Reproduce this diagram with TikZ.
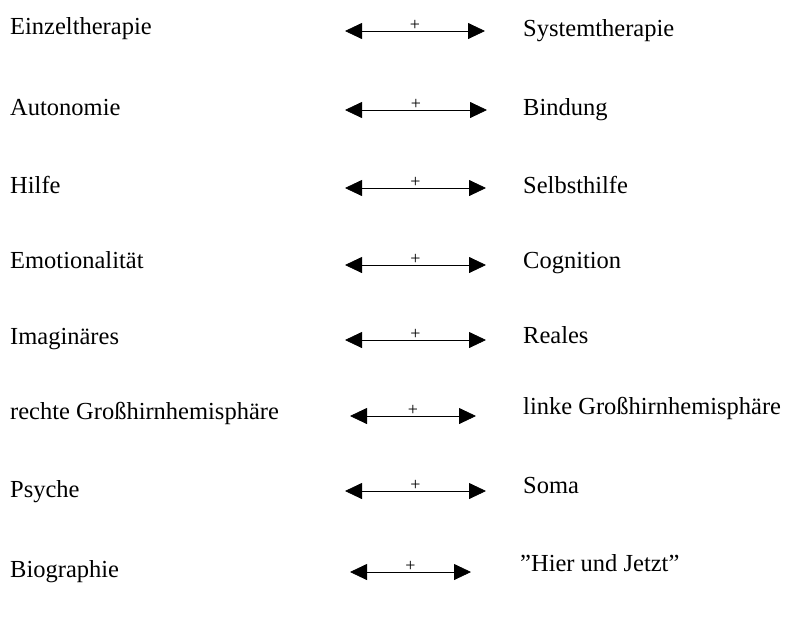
\documentclass[tikz,border=0pt]{standalone}
\usepackage{fontspec}
\setmainfont{Liberation Serif}
\usetikzlibrary{arrows.meta}
\begin{document}
\begin{tikzpicture}[x=1pt,y=-1pt,
  lbl/.style={anchor=base west,inner sep=0pt,font=\fontsize{24.5}{28}\selectfont},
  dbl/.style={line width=0.8pt,{Triangle[length=17pt,width=16pt]}-{Triangle[length=17pt,width=16pt]}},
  plus/.style={above,inner sep=0.5pt,font=\fontsize{18}{20}\selectfont}]
\useasboundingbox (0,0) rectangle (800,625);
\node[lbl] (l1) at (10,34) {Einzeltherapie};
\node[lbl] (l2) at (10,115) {Autonomie};
\node[lbl] (l3) at (10,193) {Hilfe};
\node[lbl] (l4) at (10,268) {Emotionalität};
\node[lbl] (l5) at (10,344) {Imaginäres};
\node[lbl] (l6) at (10,419) {rechte Großhirnhemisphäre};
\node[lbl] (l7) at (10,497) {Psyche};
\node[lbl] (l8) at (10,577) {Biographie};
\node[lbl] (r1) at (523,36) {Systemtherapie};
\node[lbl] (r2) at (523,115) {Bindung};
\node[lbl] (r3) at (523,193) {Selbsthilfe};
\node[lbl] (r4) at (523,268) {Cognition};
\node[lbl] (r5) at (523,343) {Reales};
\node[lbl] (r6) at (523,414) {linke Großhirnhemisphäre};
\node[lbl] (r7) at (523,493) {Soma};
\node[lbl] (r8) at (520,571) {"Hier und Jetzt"};
\coordinate (a1) at (345,31); \coordinate (b1) at (485,31);
\coordinate (a2) at (345,110); \coordinate (b2) at (487,110);
\coordinate (a3) at (345,188); \coordinate (b3) at (486,188);
\coordinate (a4) at (345,265); \coordinate (b4) at (486,265);
\coordinate (a5) at (345,340); \coordinate (b5) at (486,340);
\coordinate (a6) at (350,416); \coordinate (b6) at (476,416);
\coordinate (a7) at (345,491); \coordinate (b7) at (486,491);
\coordinate (a8) at (350,572); \coordinate (b8) at (471,572);
\foreach \i in {1,...,8}{
  \draw[dbl] (a\i) -- node[plus] {+} (b\i);
}
\end{tikzpicture}
\end{document}
